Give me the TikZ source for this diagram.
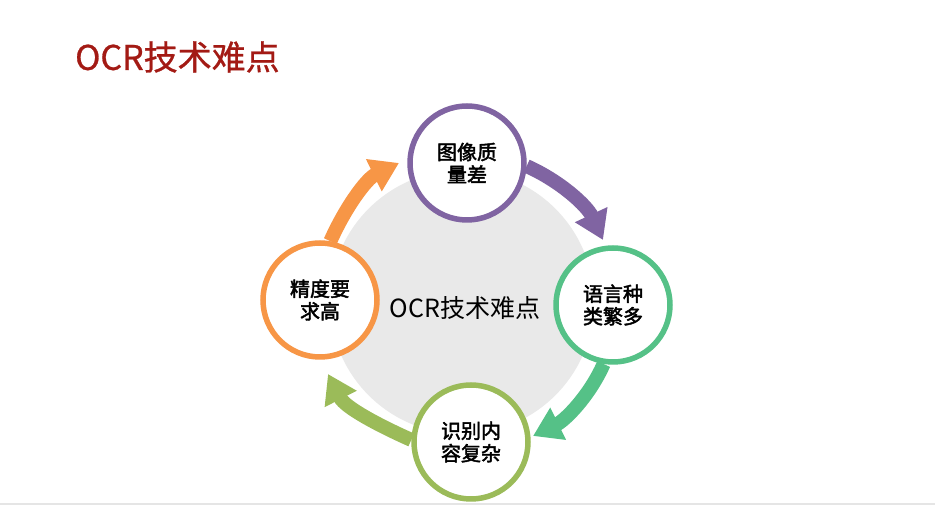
\documentclass[tikz,border=0pt]{standalone}
\usepackage{fontspec}
\setmainfont{Noto Sans CJK SC}
\newfontfamily\medfont{Noto Sans CJK SC}[FakeBold=2.2]
\newfontfamily\titlefont{Noto Sans CJK SC}[FakeBold=0.8]
\usetikzlibrary{arrows.meta}
\definecolor{titlered}{HTML}{A31A14}
\definecolor{hubgray}{HTML}{E9E9E9}
\definecolor{cpurple}{HTML}{8064A2}
\definecolor{cgreen}{HTML}{55C187}
\definecolor{colive}{HTML}{9BBB59}
\definecolor{corange}{HTML}{F79646}
\tikzset{
  stage/.style={circle, draw=#1, line width=5.5pt, fill=white, minimum size=114pt,
    inner sep=0pt, align=center, font=\medfont\fontsize{20}{22.5}\selectfont},
  flow/.style={draw=#1, line width=14pt, looseness=0.9,
    -{Triangle[width=34pt,length=28pt]}},
}
\begin{document}
\begin{tikzpicture}[x=1pt,y=1pt]
  \useasboundingbox (0,0) rectangle (935,505);
  \fill[white] (0,0) rectangle (935,505);
  \fill[black!10] (0,0) rectangle (935,2);

  % title
  \node[anchor=west, inner sep=0pt, text=titlered,
        font=\titlefont\fontsize{34}{40}\selectfont] (title) at (75,448) {OCR技术难点};

  % central hub
  \fill[hubgray] (462,203) circle[radius=132];
  \node[inner sep=0pt, font=\fontsize{25}{30}\selectfont] (hub) at (465,197) {OCR技术难点};

  % stage positions
  \coordinate (ptop) at (467,342);
  \coordinate (pright) at (613,200);
  \coordinate (pbottom) at (471,63);
  \coordinate (pleft) at (320,205);

  % arrow tips, on the ring just outside the target circles
  \coordinate (tipright)  at (603,265);
  \coordinate (tipbottom) at (533,69);
  \coordinate (tipleft)   at (328,131);
  \coordinate (tiptop)    at (399,342);

  % phantom nodes used to route the arrows before the circles are painted
  \foreach \n in {top,right,bottom,left}
    \node[circle, minimum size=114pt, line width=5.5pt, inner sep=0pt] (\n) at (p\n) {};

  % cycle arrows
  \draw[flow=cpurple] (top.-3)     to[out=-24, in=115]  (tipright);
  \draw[flow=cgreen]  (right.-99)  to[out=-114, in=26]  (tipbottom);
  \draw[flow=colive]  (bottom.178) to[out=156, in=-63]  (tipleft);
  \draw[flow=corange] (left.80)    to[out=66, in=-154]  (tiptop);

  % stages
  \node[stage=cpurple] at (ptop)    {图像质\\量差};
  \node[stage=cgreen]  at (pright)  {语言种\\类繁多};
  \node[stage=colive]  at (pbottom) {识别内\\容复杂};
  \node[stage=corange] at (pleft)   {精度要\\求高};
\end{tikzpicture}
\end{document}
